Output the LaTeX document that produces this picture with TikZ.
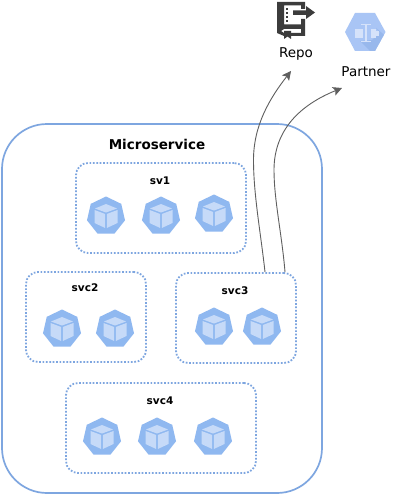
\documentclass[tikz,border=0pt]{standalone}
\usepackage{fontspec}
\setmainfont{DejaVu Sans}
\usetikzlibrary{arrows.meta,shapes.geometric}
\definecolor{podblue}{HTML}{8FB8F0}
\definecolor{podlight}{HTML}{C6DAF8}
\definecolor{boxblue}{HTML}{7EA6E0}
\definecolor{arrowgray}{HTML}{5F5F5F}
\definecolor{iconblack}{HTML}{3C3C3C}
\definecolor{hexblue}{HTML}{A9C5F5}
\definecolor{hexdark}{HTML}{98B8EC}
\definecolor{hexlight}{HTML}{D5E2FA}
\tikzset{
  x=1pt,y=1pt,
  outerbox/.style={draw=boxblue,line width=1.7pt,rounded corners=45pt,minimum width=320pt,minimum height=369pt,inner sep=0pt},
  svcbox/.style={draw=boxblue,line width=1.8pt,dash pattern=on 1.7pt off 1.7pt,rounded corners=12pt,inner sep=0pt},
  svclabel/.style={font=\bfseries\fontsize{10.5}{12}\selectfont,text=black,inner sep=0pt},
  titlelabel/.style={font=\bfseries\fontsize{13.5}{15}\selectfont,text=black,inner sep=0pt},
  iconlabel/.style={font=\fontsize{13.5}{15}\selectfont,text=black,inner sep=0pt},
  link/.style={draw=arrowgray,line width=0.9pt,-{Stealth[length=9pt,width=9pt,inset=2pt]}},
  podshape/.style={regular polygon,regular polygon sides=7,fill=podblue,draw=none,minimum size=39pt,inner sep=0pt},
}
\newcommand{\podicon}[3]{%
  \node[podshape] (#1) at (#2,#3) {};
  \begin{scope}[shift={(#2,#3)}]
    \fill[podlight] (-11,7.5) -- (0,12) -- (11,7.5) -- (0,3.5) -- cycle;
    \fill[podlight] (-11.5,6) -- (-0.8,2) -- (-0.8,-12) -- (-11.5,-7) -- cycle;
    \fill[podlight] (11.5,6) -- (0.8,2) -- (0.8,-12) -- (11.5,-7) -- cycle;
  \end{scope}}
\begin{document}
\begin{tikzpicture}
\useasboundingbox (0,0) rectangle (400,-495);
\fill[white] (0,0) rectangle (400,-495);
\node[outerbox] (outer) at (162,-308.5) {};
\node[svcbox,minimum width=170pt,minimum height=90pt] (sv1) at (161,-208) {};
\node[svcbox,minimum width=120pt,minimum height=90pt] (svc2) at (86,-317) {};
\node[svcbox,minimum width=120pt,minimum height=90pt] (svc3) at (236,-318) {};
\node[svcbox,minimum width=190pt,minimum height=90pt] (svc4) at (161,-428) {};
\node[titlelabel] (title) at (157,-144) {Microservice};
\node[svclabel] (l1) at (160,-181) {sv1};
\node[svclabel] (l2) at (85,-288) {svc2};
\node[svclabel] (l3) at (235,-291) {svc3};
\node[svclabel] (l4) at (160,-401) {svc4};
\podicon{p1}{106}{-216}
\podicon{p2}{161}{-216}
\podicon{p3}{214}{-214}
\podicon{p4}{62}{-329}
\podicon{p5}{115}{-329}
\podicon{p6}{214}{-327}
\podicon{p7}{262}{-327}
\podicon{p8}{102}{-437}
\podicon{p9}{157}{-437}
\podicon{p10}{213}{-437}
% Repo icon
\begin{scope}
  \fill[iconblack] (277,-2) -- (305,-2) -- (305,-9) -- (301,-9) -- (301,-5.5) -- (284,-5.5) -- (284,-24.5) -- (301,-24.5) -- (301,-19) -- (305,-19) -- (305,-36) -- (291,-36) -- (291,-33) -- (301,-33) -- (301,-29) -- (284,-29) -- (281,-31) -- (284,-33) -- (284,-36) -- (277,-33) -- cycle;
  \fill[iconblack] (293,-10.5) -- (306,-10.5) -- (306,-6) -- (315,-12.5) -- (306,-19) -- (306,-15) -- (293,-15) -- cycle;
  \fill[iconblack] (284,-31) -- (291,-31) -- (291,-39) -- (287.5,-36.5) -- (284,-39) -- cycle;
  \foreach \yy in {-8,-12,-16,-20} \fill[iconblack] (286,\yy) rectangle (288,\yy-2);
\end{scope}
% Partner icon
\fill[hexblue] (345,-32) -- (355,-13) -- (375,-13) -- (385.5,-32) -- (375,-51) -- (355,-51) -- cycle;
\begin{scope}
  \clip (345,-32) -- (355,-13) -- (375,-13) -- (385.5,-32) -- (375,-51) -- (355,-51) -- cycle;
  \fill[hexdark] (376,-28) -- (380,-33) -- (372,-40) -- (360,-41) -- (372,-53) -- (395,-53) -- (395,-44) -- cycle;
\end{scope}
\fill[hexlight] (355,-29.5) rectangle (363,-38);
\fill[hexlight] (371,-29.5) rectangle (376,-38);
\fill[hexlight] (376,-31) -- (379,-31) -- (379,-36) -- (376,-36) -- cycle;
\fill[hexlight] (361,-24) rectangle (371,-25.2);
\fill[hexlight] (361,-41) rectangle (371,-42.2);
\fill[hexlight] (365.2,-24) rectangle (366.8,-42);
\node[iconlabel] (repo) at (296,-54) {Repo};
\node[iconlabel] (partner) at (366,-72) {Partner};
\coordinate (repoend) at (291,-71);
\coordinate (partnerend) at (342,-88);
\coordinate (a1) at (265,-272);
\coordinate (a2) at (285,-272);
\draw[link] (a1) .. controls (261,-235) and (253.5,-195) .. (253.5,-160) .. controls (253.5,-125) and (270,-98) .. (repoend);
\draw[link] (a2) .. controls (282,-235) and (274,-200) .. (274,-170) .. controls (274,-130) and (300,-105) .. (partnerend);
\end{tikzpicture}
\end{document}
